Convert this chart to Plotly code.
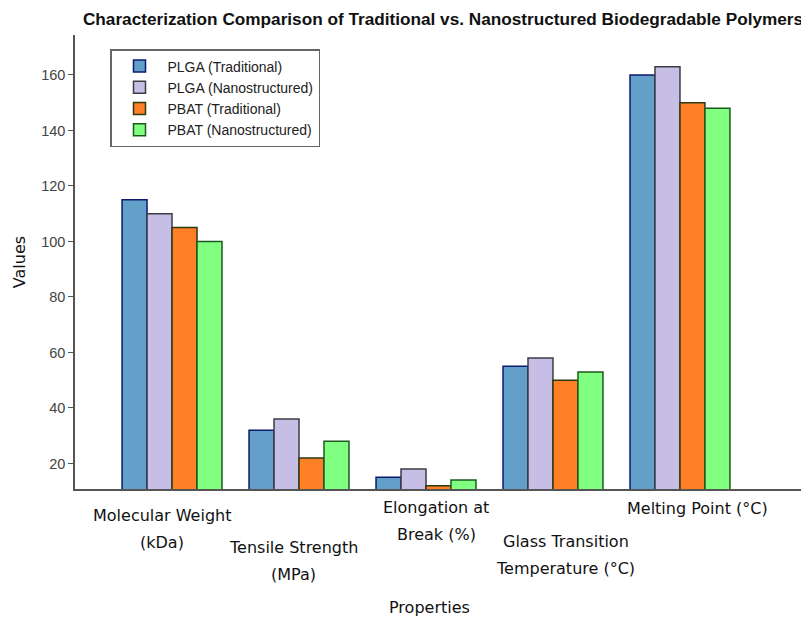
import plotly.graph_objects as go

categories = ["Molecular Weight (kDa)", "Tensile Strength (MPa)", "Elongation at Break (%)",
              "Glass Transition Temperature (°C)", "Melting Point (°C)"]
label_lines = [["Molecular Weight", "(kDa)"], ["Tensile Strength", "(MPa)"],
               ["Elongation at", "Break (%)"], ["Glass Transition", "Temperature (°C)"],
               ["Melting Point (°C)"]]
plga_trad = [115, 32, 15, 55, 160]
plga_nano = [110, 36, 18, 58, 163]
pbat_trad = [105, 22, 12, 50, 150]
pbat_nano = [100, 28, 14, 53, 148]
series_names = ["PLGA (Traditional)", "PLGA (Nanostructured)", "PBAT (Traditional)", "PBAT (Nanostructured)"]
y_ticks = [20, 40, 60, 80, 100, 120, 140, 160]

fills = ["#62a0ca", "#c6bee4", "#ff7f27", "#80ff80"]
edges = ["#0b1a6e", "#3c3c46", "#2c3a10", "#1c5a1c"]

# label placement (style only)
label_dx = [-0.08, -0.04, 0.08, 0.10, 0.14]
label_first_shift = [-26, -58, -18, -52, -19]
line_step = 27
label_font = dict(family="DejaVu Sans", size=16, color="#111")

fig = go.Figure()
for name, vals, fc, ec in zip(series_names, [plga_trad, plga_nano, pbat_trad, pbat_nano], fills, edges):
    fig.add_trace(go.Bar(x=categories, y=vals, name=name,
                         marker=dict(color=fc, line=dict(color=ec, width=1.5))))

annotations = []
for i, lines in enumerate(label_lines):
    for j, txt in enumerate(lines):
        annotations.append(dict(x=i + label_dx[i], y=0, xref="x", yref="paper", text=txt,
                                showarrow=False, xanchor="center", yanchor="middle",
                                yshift=label_first_shift[i] - j * line_step, font=label_font))
annotations.append(dict(x=(429 - 75) / 742, y=0, xref="paper", yref="paper", text="Properties",
                        showarrow=False, xanchor="center", yanchor="middle", yshift=-118,
                        font=label_font))

fig.update_layout(
    width=809, height=619,
    margin=dict(l=67, r=0, t=27, b=138, autoexpand=False),
    paper_bgcolor="white", plot_bgcolor="white",
    barmode="group", bargap=0.213, bargroupgap=0,
    title=dict(text="<b>Characterization Comparison of Traditional vs. Nanostructured Biodegradable Polymers</b>",
               x=435 / 809, xref="container", xanchor="center", y=1 - 11 / 619, yanchor="middle",
               font=dict(family="Liberation Sans, Arial", size=17.2, color="#111")),
    xaxis=dict(range=[-0.764, 5.079], showticklabels=False, ticks="", showline=True,
               linecolor="#555", linewidth=1.5, showgrid=False, zeroline=False),
    yaxis=dict(range=[10.8, 174.4], tickvals=y_ticks, ticks="outside", ticklen=5, tickcolor="#555",
               showline=True, linecolor="#555", linewidth=1.5, showgrid=False, zeroline=False,
               automargin=False,
               tickfont=dict(family="Liberation Sans, Arial", size=14.5, color="#444"),
               title=dict(text="Values", standoff=12,
                          font=dict(family="DejaVu Sans", size=16, color="#111"))),
    legend=dict(x=(102 - 67) / 742, y=1 - (41 - 27) / 454, xanchor="left", yanchor="top",
                bgcolor="white", bordercolor="#666", borderwidth=1.5,
                font=dict(family="Liberation Sans, Arial", size=14, color="#222"),
                tracegroupgap=0, itemwidth=46),
    annotations=annotations,
    showlegend=True,
)

fig.write_html("out.html")
